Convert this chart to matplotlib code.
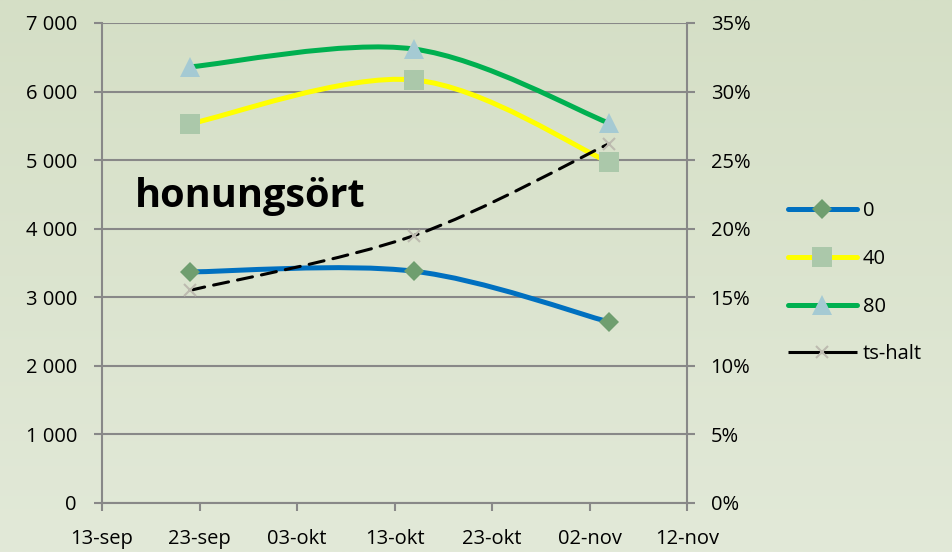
import datetime as dt
import numpy as np
import matplotlib
matplotlib.use("Agg")
import matplotlib.pyplot as plt
import matplotlib.dates as mdates
from matplotlib.path import Path
from matplotlib.patches import PathPatch
from matplotlib.lines import Line2D
from matplotlib.ticker import FuncFormatter, FixedLocator

# ---- data ----
dates = [dt.date(2012, 9, 22), dt.date(2012, 10, 15), dt.date(2012, 11, 4)]
s0 = [3370, 3380, 2640]
s40 = [5530, 6170, 4970]
s80 = [6360, 6620, 5540]
ts_halt = [0.155, 0.195, 0.262]
series_labels = ["0", "40", "80", "ts-halt"]
tick_dates = [dt.date(2012, 9, 13), dt.date(2012, 9, 23), dt.date(2012, 10, 3),
              dt.date(2012, 10, 13), dt.date(2012, 10, 23), dt.date(2012, 11, 2),
              dt.date(2012, 11, 12)]
tick_labels = ["13-sep", "23-sep", "03-okt", "13-okt", "23-okt", "02-nov", "12-nov"]
title_text = "honungsört"

FONT = "Open Sans"
plt.rcParams["font.family"] = [FONT, "DejaVu Sans"]
FS = 14.5

fig = plt.figure(figsize=(9.52, 5.52), dpi=100)

# gradient background
bg = fig.add_axes([0, 0, 1, 1], zorder=-10)
top = np.array([213, 223, 198]) / 255
bot = np.array([226, 233, 216]) / 255
t = np.linspace(0, 1, 256)[:, None]
grad = top[None, :] * (1 - t) + bot[None, :] * t
bg.imshow(grad[:, None, :], aspect="auto", extent=[0, 1, 0, 1])
bg.set_axis_off()

ax = fig.add_axes([102 / 952, 49 / 552, 585 / 952, 480 / 552])
ax.patch.set_alpha(0)
ax2 = ax.twinx()
ax2.patch.set_alpha(0)

xn = mdates.date2num(dates)


def smooth_path(xs, ys):
    pts = np.column_stack([xs, ys]).astype(float)
    n = len(pts)
    verts = [pts[0]]
    codes = [Path.MOVETO]
    for i in range(n - 1):
        p_prev = pts[i - 1] if i > 0 else pts[i]
        p_next2 = pts[i + 2] if i + 2 < n else pts[i + 1]
        c1 = pts[i] + (pts[i + 1] - p_prev) / 6
        c2 = pts[i + 1] - (p_next2 - pts[i]) / 6
        verts += [c1, c2, pts[i + 1]]
        codes += [Path.CURVE4] * 3
    return Path(verts, codes)


gridc = "#888888"
styles = [
    (ax, s0, "#0070C0", "-", 3.6, "D", 10, "#6F9E6F"),
    (ax, s40, "#FFFF00", "-", 3.6, "s", 14, "#ABC8AA"),
    (ax, s80, "#00B050", "-", 3.6, "^", 14, "#A5CAD3"),
    (ax2, ts_halt, "black", (0, (5, 3)), 2.2, "x", 9, "#BDBBB0"),
]
handles = []
for (a, ys, lc, ls, lw, mk, ms, mc), lab in zip(styles, series_labels):
    patch = PathPatch(smooth_path(xn, ys), facecolor="none", edgecolor=lc,
                      lw=lw, linestyle=ls, capstyle="round", zorder=3)
    a.add_patch(patch)
    a.plot(dates, ys, linestyle="none", marker=mk, ms=ms, color=mc,
           mec=mc, mew=1.5 if mk == "x" else 0, zorder=4)
    handles.append(Line2D([], [], color=lc, lw=lw, linestyle="-",
                          solid_capstyle="round" if mk != "x" else "butt",
                          marker=mk, ms=ms, mfc=mc, mec=mc,
                          mew=1.5 if mk == "x" else 0))

ax.set_xlim(mdates.date2num(tick_dates[0]), mdates.date2num(tick_dates[-1]))
ax.set_ylim(0, 7000)
ax2.set_ylim(0, 0.35)
ax.xaxis.set_major_locator(FixedLocator(mdates.date2num(tick_dates)))
ax.set_xticklabels(tick_labels)
ax.set_yticks(np.arange(0, 7001, 1000))
ax.yaxis.set_major_formatter(FuncFormatter(lambda v, p: f"{int(v):,}".replace(",", " ")))
ax2.set_yticks(np.arange(0, 0.351, 0.05))
ax2.yaxis.set_major_formatter(FuncFormatter(lambda v, p: f"{v*100:.0f}%"))

ax.grid(axis="y", color=gridc, lw=1.5, zorder=0)
ax.set_axisbelow(True)
for a in (ax, ax2):
    for s in a.spines.values():
        s.set_visible(False)
for a, side in ((ax, "left"), (ax, "bottom"), (ax2, "right")):
    a.spines[side].set_visible(True)
    a.spines[side].set_color(gridc)
    a.spines[side].set_linewidth(1.5)

ax.tick_params(axis="both", colors=gridc, width=1.5, length=6, labelsize=FS,
               labelcolor="black")
ax.tick_params(axis="y", pad=12)
ax.tick_params(axis="x", pad=13)
ax2.tick_params(axis="y", colors=gridc, width=1.5, length=6, labelsize=FS,
                labelcolor="black", pad=11)

ax.text((135 - 102) / 585, (503 - 207) / 480, title_text,
        transform=ax.transAxes, fontsize=28.5, fontweight="bold",
        ha="left", va="baseline", color="black", zorder=5)

fig.legend(handles, series_labels, loc="upper left",
           bbox_to_anchor=(780 / 952, 1 - 193 / 552), frameon=False,
           fontsize=FS, handlelength=3.4, handletextpad=0.3,
           labelspacing=1.38, borderaxespad=0)

fig.savefig("out.png", dpi=100)
